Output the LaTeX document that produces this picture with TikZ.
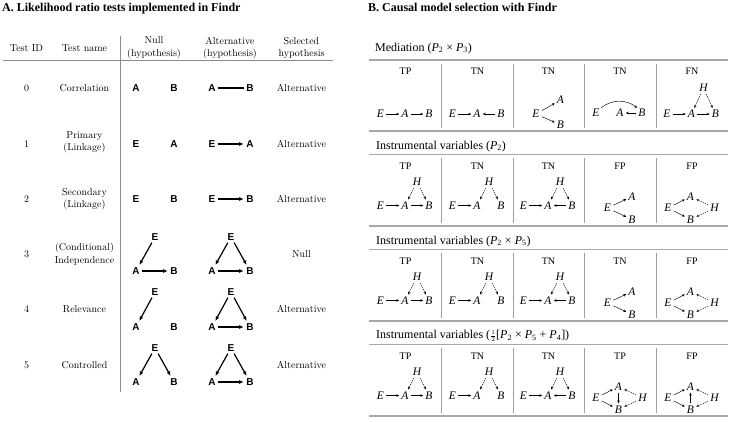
\documentclass[tikz,border=0pt]{standalone}
\usepackage{fontspec}
\usetikzlibrary{arrows.meta}
\newfontfamily\tms{Liberation Serif}
\newfontfamily\hv{Liberation Sans}
\definecolor{rulegray}{HTML}{A8A8A8}
\definecolor{sepgray}{HTML}{A0A0A0}
\definecolor{vgray}{HTML}{8C8C8C}
\tikzset{
  ltr/.style={font=\hv\bfseries\fontsize{10}{12}\selectfont, inner sep=2pt},
  larr/.style={line width=1.2pt, -{Latex[length=4.5pt,width=4pt]}, shorten >=0.5pt},
  lline/.style={line width=1.2pt},
  cmtext/.style={font=\fontsize{10}{12.5}\selectfont, align=center, inner sep=0pt},
  rlt/.style={font=\tms\itshape\fontsize{11.5}{13}\selectfont, inner sep=1.2pt},
  rarr/.style={line width=0.45pt, -{Stealth[length=2.8pt,width=2.6pt]}, shorten <=1pt, shorten >=1pt},
  rdash/.style={rarr, dash pattern=on 1.3pt off 1pt},
  rulest/.style={rulegray, line width=1.6pt},
  sepst/.style={sepgray, line width=0.9pt},
  hdr/.style={font=\tms\fontsize{10}{12}\selectfont, inner sep=0pt},
  sectitle/.style={font=\tms\fontsize{12}{14}\selectfont, anchor=base west, inner sep=0pt},
  bigtitle/.style={font=\tms\bfseries\fontsize{12}{14}\selectfont, anchor=base west, inner sep=0pt}
}
% chain E -> A   B  (cx, row)
\newcommand\cellchain[3]{%
  \node[rlt] (#1E) at (#2-25,#3) {E};
  \node[rlt] (#1A) at (#2-0.5,#3) {A};
  \node[rlt] (#1B) at (#2+23.5,#3) {B};
  \draw[rarr] (#1E) -- (#1A);
}
% hidden H above A and B (cx, yH)
\newcommand\cellH[3]{%
  \node[rlt] (#1H) at (#2+11.5,#3) {H};
  \draw[rdash] (#1H) -- (#1A);
  \draw[rdash] (#1H) -- (#1B);
}
% fork E -> A, E -> B (cx, yE, yA, yB)
\newcommand\cellfork[5]{%
  \node[rlt] (#1E) at (#2-12.5,#3) {E};
  \node[rlt] (#1A) at (#2+12,#4) {A};
  \node[rlt] (#1B) at (#2+12,#5) {B};
  \draw[rarr] (#1E) -- (#1A);
  \draw[rarr] (#1E) -- (#1B);
}
% diamond with H (cx, yE, yA, yB)
\newcommand\celldiamond[5]{%
  \node[rlt] (#1E) at (#2-24,#3) {E};
  \node[rlt] (#1A) at (#2-1.5,#4) {A};
  \node[rlt] (#1B) at (#2-1.5,#5) {B};
  \node[rlt] (#1H) at (#2+22.5,#3) {H};
  \draw[rarr] (#1E) -- (#1A);
  \draw[rarr] (#1E) -- (#1B);
  \draw[rdash] (#1H) -- (#1A);
  \draw[rdash] (#1H) -- (#1B);
}
\begin{document}
\begin{tikzpicture}[x=1pt,y=-1pt]
\useasboundingbox (0,0) rectangle (730,421);

%================ Panel A =================
\node[bigtitle] (titleA) at (2,11) {A. Likelihood ratio tests implemented in Findr};

\node[cmtext] (hID) at (26.5,48) {Test ID};
\node[cmtext] (hName) at (84.5,48) {Test name};
\node[cmtext] (hNull) at (154,48) {Null\\(hypothesis)};
\node[cmtext] (hAlt) at (230,48) {Alternative\\(hypothesis)};
\node[cmtext] (hSel) at (301.5,48) {Selected\\hypothesis};
\draw[vgray, line width=0.7pt] (3,60.7) -- (333,60.7);
\draw[vgray, line width=0.9pt] (120.5,36) -- (120.5,392);

% IDs and names
\node[cmtext] (id0) at (26.5,88) {0};
\node[cmtext] (id1) at (26.5,144) {1};
\node[cmtext] (id2) at (26.5,199) {2};
\node[cmtext] (id3) at (26.5,254) {3};
\node[cmtext] (id4) at (26.5,309) {4};
\node[cmtext] (id5) at (26.5,365) {5};
\node[cmtext] (nm0) at (84.5,88) {Correlation};
\node[cmtext] (nm1) at (84.5,142.5) {Primary\\(Linkage)};
\node[cmtext] (nm2) at (84.5,199) {Secondary\\(Linkage)};
\node[cmtext] (nm3) at (84.5,254) {(Conditional)\\Independence};
\node[cmtext] (nm4) at (84.5,309) {Relevance};
\node[cmtext] (nm5) at (84.5,365) {Controlled};
\node[cmtext] (s0) at (301.5,88) {Alternative};
\node[cmtext] (s1) at (301.5,144) {Alternative};
\node[cmtext] (s2) at (301.5,199) {Alternative};
\node[cmtext] (s3) at (301.5,254) {Null};
\node[cmtext] (s4) at (301.5,309) {Alternative};
\node[cmtext] (s5) at (301.5,365) {Alternative};

% row 0
\node[ltr] (n0A) at (136,88) {A};
\node[ltr] (n0B) at (174,88) {B};
\node[ltr] (a0A) at (212,88) {A};
\node[ltr] (a0B) at (250,88) {B};
\draw[lline] (a0A) -- (a0B);
% row 1
\node[ltr] (n1E) at (136,144) {E};
\node[ltr] (n1A) at (174,144) {A};
\node[ltr] (a1E) at (212,144) {E};
\node[ltr] (a1A) at (250,144) {A};
\draw[larr] (a1E) -- (a1A);
% row 2
\node[ltr] (n2E) at (136,199) {E};
\node[ltr] (n2B) at (174,199) {B};
\node[ltr] (a2E) at (212,199) {E};
\node[ltr] (a2B) at (250,199) {B};
\draw[larr] (a2E) -- (a2B);
% row 3
\node[ltr] (n3E) at (155,237) {E};
\node[ltr] (n3A) at (136,271) {A};
\node[ltr] (n3B) at (174,271) {B};
\draw[larr] (n3E) -- (n3A);
\draw[larr] (n3A) -- (n3B);
\node[ltr] (a3E) at (231,237) {E};
\node[ltr] (a3A) at (212,271) {A};
\node[ltr] (a3B) at (250,271) {B};
\draw[larr] (a3E) -- (a3A);
\draw[larr] (a3E) -- (a3B);
\draw[larr] (a3A) -- (a3B);
% row 4
\node[ltr] (n4E) at (155,292) {E};
\node[ltr] (n4A) at (136,327) {A};
\node[ltr] (n4B) at (174,327) {B};
\draw[larr] (n4E) -- (n4A);
\node[ltr] (a4E) at (231,292) {E};
\node[ltr] (a4A) at (212,327) {A};
\node[ltr] (a4B) at (250,327) {B};
\draw[larr] (a4E) -- (a4A);
\draw[larr] (a4E) -- (a4B);
\draw[larr] (a4A) -- (a4B);
% row 5
\node[ltr] (n5E) at (155,348) {E};
\node[ltr] (n5A) at (136,382) {A};
\node[ltr] (n5B) at (174,382) {B};
\draw[larr] (n5E) -- (n5A);
\draw[larr] (n5E) -- (n5B);
\node[ltr] (a5E) at (231,348) {E};
\node[ltr] (a5A) at (212,382) {A};
\node[ltr] (a5B) at (250,382) {B};
\draw[larr] (a5E) -- (a5A);
\draw[larr] (a5E) -- (a5B);
\draw[larr] (a5A) -- (a5B);

%================ Panel B =================
\node[bigtitle] (titleB) at (368,11) {B. Causal model selection with Findr};

% rules
\foreach \yy in {60,131,154.5,226,249.5,321,344.5,416} {\draw[rulest] (369,\yy) -- (728,\yy);}
\foreach \xx in {441.5,513,584.5,656.5} {
  \draw[sepst] (\xx,64) -- (\xx,128);
  \draw[sepst] (\xx,158) -- (\xx,223);
  \draw[sepst] (\xx,253) -- (\xx,318);
  \draw[sepst] (\xx,348) -- (\xx,413);
}

% section 1
\node[sectitle] (sec1) at (375,51) {Mediation (\textit{P}\textsubscript{2} × \textit{P}\textsubscript{3})};
\node[hdr] (h11) at (405.5,71) {TP};
\node[hdr] (h12) at (477.5,71) {TN};
\node[hdr] (h13) at (548.5,71) {TN};
\node[hdr] (h14) at (620,71) {TN};
\node[hdr] (h15) at (692,71) {FN};
\cellchain{pa}{405.5}{114}
\draw[rarr] (paA) -- (paB);
\cellchain{pb}{477.5}{114}
\draw[rarr] (pbB) -- (pbA);
\cellfork{pc}{548.5}{114}{100}{125}
\node[rlt] (pdE) at (596,113) {E};
\node[rlt] (pdA) at (620,113) {A};
\node[rlt] (pdB) at (642,113) {B};
\draw[rarr, shorten <=0pt, shorten >=0pt] (pdE.north east) to[bend left=38] (pdB.north west);
\draw[rarr] (pdB) -- (pdA);
\cellchain{pe}{692}{114}
\draw[rarr] (peA) -- (peB);
\cellH{pe}{692}{88}

% section 2
\node[sectitle] (sec2) at (376,149) {Instrumental variables (\textit{P}\textsubscript{2})};
\node[hdr] (h21) at (405.5,166) {TP};
\node[hdr] (h22) at (477.5,166) {TN};
\node[hdr] (h23) at (548.5,166) {TN};
\node[hdr] (h24) at (620,166) {FP};
\node[hdr] (h25) at (692,166) {FP};
\cellchain{qa}{405.5}{205.5}
\draw[rarr] (qaA) -- (qaB);
\cellH{qa}{405.5}{182}
\cellchain{qb}{477.5}{205.5}
\cellH{qb}{477.5}{182}
\cellchain{qc}{548.5}{205.5}
\draw[rarr] (qcB) -- (qcA);
\cellH{qc}{548.5}{182}
\cellfork{qd}{620}{208}{196.5}{219.5}
\celldiamond{qe}{692}{208}{196.5}{219.5}

% section 3
\node[sectitle] (sec3) at (376,244) {Instrumental variables (\textit{P}\textsubscript{2} × \textit{P}\textsubscript{5})};
\node[hdr] (h31) at (405.5,261) {TP};
\node[hdr] (h32) at (477.5,261) {TN};
\node[hdr] (h33) at (548.5,261) {TN};
\node[hdr] (h34) at (620,261) {TN};
\node[hdr] (h35) at (692,261) {FP};
\cellchain{ra}{405.5}{300.5}
\draw[rarr] (raA) -- (raB);
\cellH{ra}{405.5}{277}
\cellchain{rb}{477.5}{300.5}
\cellH{rb}{477.5}{277}
\cellchain{rc}{548.5}{300.5}
\draw[rarr] (rcB) -- (rcA);
\cellH{rc}{548.5}{277}
\cellfork{rd}{620}{303}{291.5}{314.5}
\celldiamond{re}{692}{303}{291.5}{314.5}

% section 4
\node[sectitle] (sec4) at (376,338.5) {Instrumental variables (\raisebox{0.5pt}{$\scriptstyle\frac{1}{2}$}[\textit{P}\textsubscript{2} × \textit{P}\textsubscript{5} + \textit{P}\textsubscript{4}])};
\node[hdr] (h41) at (405.5,356) {TP};
\node[hdr] (h42) at (477.5,356) {TN};
\node[hdr] (h43) at (548.5,356) {TN};
\node[hdr] (h44) at (620,356) {TP};
\node[hdr] (h45) at (692,356) {FP};
\cellchain{sa}{405.5}{395.5}
\draw[rarr] (saA) -- (saB);
\cellH{sa}{405.5}{372}
\cellchain{sb}{477.5}{395.5}
\cellH{sb}{477.5}{372}
\cellchain{sc}{548.5}{395.5}
\draw[rarr] (scB) -- (scA);
\cellH{sc}{548.5}{372}
\celldiamond{sd}{620}{398}{386.5}{409.5}
\draw[rarr] (sdA) -- (sdB);
\celldiamond{se}{692}{398}{386.5}{409.5}
\draw[rarr] (seB) -- (seA);
\end{tikzpicture}
\end{document}
